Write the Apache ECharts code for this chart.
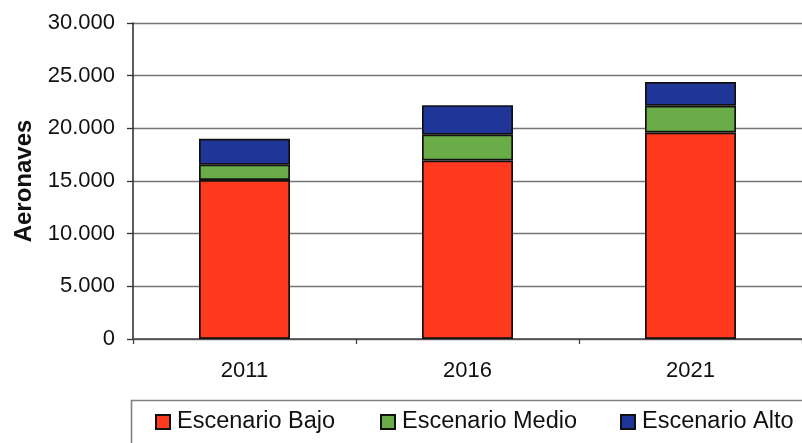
<!DOCTYPE html>
<html>
<head>
<meta charset="utf-8">
<title>Aeronaves por escenario</title>
<script src="https://cdn.jsdelivr.net/npm/echarts@6/dist/echarts.min.js"></script>
<style>
  html, body { margin: 0; padding: 0; background: #ffffff; }
  #chart { width: 802px; height: 443px; }
</style>
</head>
<body>
<div id="chart"></div>
<script>
// Years on the category axis
const years = ['2011', '2016', '2021'];

// Stacked segments (aircraft count) for each scenario
const bajo  = [15100, 16950, 19600];
const medio = [1450, 2450, 2550];
const alto  = [2450, 2800, 2250];

// Value axis ticks
const yTicks = [0, 5000, 10000, 15000, 20000, 25000, 30000];

const seriesNames = ['Escenario Bajo', 'Escenario Medio', 'Escenario Alto'];
const seriesColors = ['#ff3a1f', '#6aad48', '#1f3598'];
const FONT = '"Liberation Sans", Arial, sans-serif';

// Spanish thousands separator: 30000 -> "30.000"
function fmt(v) {
  return String(v).replace(/\B(?=(\d{3})+(?!\d))/g, '.');
}

const chart = echarts.init(document.getElementById('chart'), null, { renderer: 'canvas' });

const values = [bajo, medio, alto];
const series = seriesNames.map((name, i) => ({
  name: name,
  type: 'bar',
  stack: 'total',
  barWidth: 91,
  data: values[i],
  itemStyle: {
    color: seriesColors[i],
    borderColor: '#111111',
    borderWidth: 1.7
  },
  emphasis: { disabled: true }
}));

// One legend per item so each entry sits at its own place in the framed box
const legendLefts = [155, 380, 620];
const legends = seriesNames.map((name, i) => ({
  data: [name],
  left: legendLefts[i],
  top: 410,
  padding: 0,
  itemWidth: 14,
  itemHeight: 14,
  icon: 'rect',
  selectedMode: false,
  textStyle: {
    fontFamily: FONT,
    fontSize: 23.5,
    color: '#111111',
    padding: [0, 0, 0, 2]
  }
}));

chart.setOption({
  animation: false,
  backgroundColor: '#ffffff',
  grid: {
    left: 133,
    right: -1,
    top: 23,
    bottom: 104,
    containLabel: false
  },
  legend: legends,
  graphic: [{
    type: 'rect',
    left: 129,
    top: 398,
    shape: { width: 700, height: 70 },
    style: { fill: 'none', stroke: '#808080', lineWidth: 1.6 },
    z: 0
  }],
  xAxis: {
    type: 'category',
    data: years,
    axisLine: { lineStyle: { color: '#444444', width: 1.6 } },
    axisTick: { show: true, length: 5, lineStyle: { color: '#444444', width: 1.3 } },
    axisLabel: {
      fontFamily: FONT,
      fontSize: 22,
      color: '#111111',
      margin: 21
    }
  },
  yAxis: {
    type: 'value',
    min: yTicks[0],
    max: yTicks[yTicks.length - 1],
    interval: yTicks[1] - yTicks[0],
    name: 'Aeronaves',
    nameLocation: 'middle',
    nameRotate: 90,
    nameGap: 97,
    nameTextStyle: {
      fontFamily: FONT,
      fontSize: 24,
      fontWeight: 'bold',
      color: '#111111'
    },
    axisLine: { show: true, lineStyle: { color: '#333333', width: 1.6 } },
    axisTick: { show: true, length: 6, lineStyle: { color: '#333333', width: 1.3 } },
    axisLabel: {
      fontFamily: FONT,
      fontSize: 22,
      color: '#111111',
      margin: 18,
      formatter: v => fmt(v)
    },
    splitLine: { show: true, lineStyle: { color: '#747474', width: 1.3 } }
  },
  series: series
});
</script>
</body>
</html>
